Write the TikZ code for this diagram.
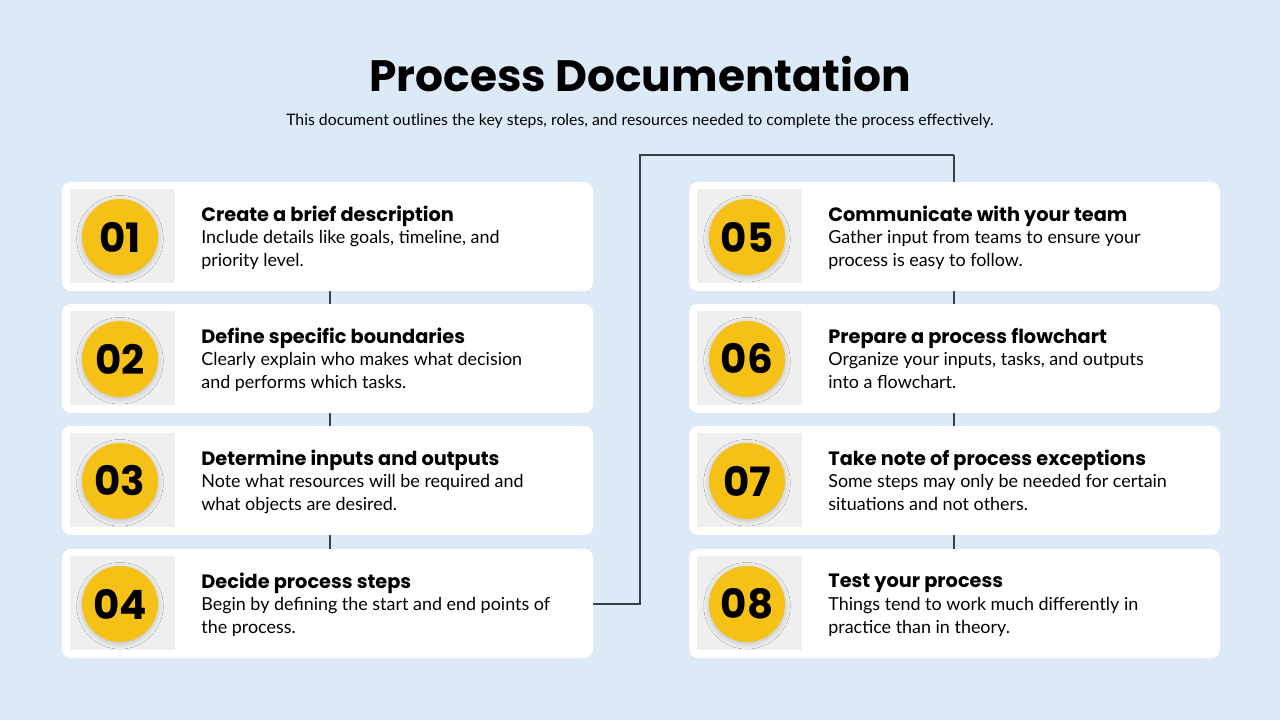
\documentclass[tikz,border=0pt]{standalone}
\usepackage{fontspec}
\setmainfont{Lato}
\newfontfamily\headf{Poppins}
\usetikzlibrary{shadows.blur}
\definecolor{bg}{HTML}{DCE9F7}
\definecolor{yel}{HTML}{F5C116}
\definecolor{gr}{HTML}{EFEFEF}
\definecolor{ln}{HTML}{3A3F47}
\tikzset{
 card/.style={fill=white,rounded corners=5pt,draw=none},
 sq/.style={fill=gr,draw=none},
 circ/.style={circle,fill=yel,minimum size=76*0.02cm,inner sep=0pt,blur shadow={shadow blur steps=8,shadow blur radius=3pt,shadow xshift=0pt,shadow yshift=-1pt,shadow opacity=20},font=\headf\bfseries\fontsize{23}{23}\selectfont},
 hd/.style={anchor=west,font=\headf\bfseries\fontsize{11}{13}\selectfont,inner sep=0pt},
 bd/.style={anchor=north west,align=left,font=\fontsize{10.2}{13}\selectfont,inner sep=0pt},
 conn/.style={draw=ln,line width=1.6pt}
}
\newcommand{\stepcard}[7]{%
 \path[card] (#2,#3) rectangle (#2+531,#3+109);
 \path[sq] (#2+8,#3+7) rectangle (#2+113,#3+101);
 \node[circ] (#1c) at (#2+58,#3+55) {#4};
 \node[hd] (#1h) at (#2+139,#3+34) {#5};
 \node[bd] (#1b) at (#2+139,#3+48) {#6\\#7};
}
\begin{document}
\begin{tikzpicture}[x=0.02cm,y=-0.02cm]
\fill[bg] (0,0) rectangle (1280,720);
\node[font=\headf\bfseries\fontsize{25}{25}\selectfont] (title) at (640,74) {Process Documentation};
\node[font=\fontsize{9}{10}\selectfont] (sub) at (640,121) {This document outlines the key steps, roles, and resources needed to complete the process effectively.};
\draw[conn] (330,290) -- (330,550);
\draw[conn] (954,155) -- (954,550);
\draw[conn] (593,604) -- (640,604) -- (640,155) -- (954,155);
\stepcard{a}{62}{182}{01}{Create a brief description}{Include details like goals, timeline, and}{priority level.}
\stepcard{b}{62}{304}{02}{Define specific boundaries}{Clearly explain who makes what decision}{and performs which tasks.}
\stepcard{c}{62}{426}{03}{Determine inputs and outputs}{Note what resources will be required and}{what objects are desired.}
\stepcard{d}{62}{549}{04}{Decide process steps}{Begin by defining the start and end points of}{the process.}
\stepcard{e}{689}{182}{05}{Communicate with your team}{Gather input from teams to ensure your}{process is easy to follow.}
\stepcard{f}{689}{304}{06}{Prepare a process flowchart}{Organize your inputs, tasks, and outputs}{into a flowchart.}
\stepcard{g}{689}{426}{07}{Take note of process exceptions}{Some steps may only be needed for certain}{situations and not others.}
\stepcard{h}{689}{549}{08}{Test your process}{Things tend to work much differently in}{practice than in theory.}
\end{tikzpicture}
\end{document}
